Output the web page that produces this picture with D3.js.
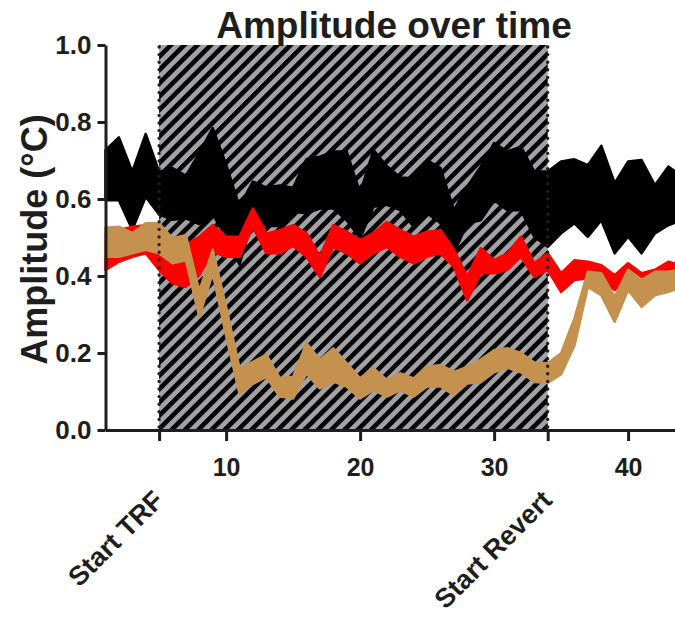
<!DOCTYPE html>
<html>
<head>
<meta charset="utf-8">
<script src="https://cdn.jsdelivr.net/npm/d3@7"></script>
<style>
  html, body { margin: 0; padding: 0; background: #fff; }
  svg { display: block; }
  text { font-family: "Liberation Sans", Arial, Helvetica, sans-serif; font-weight: bold; fill: #1e1e1e; }
</style>
</head>
<body>
<svg id="chart" width="675" height="621"></svg>
<script>
// ---- data ----
const days = [1,2,3,4,5,6,7,8,9,10,11,12,13,14,15,16,17,18,19,20,21,22,23,24,25,26,27,28,29,30,31,32,33,34,35,36,37,38,39,40,41,42,43,44];

const blackUpper = [0.727,0.760,0.671,0.769,0.671,0.680,0.660,0.720,0.784,0.690,0.580,0.645,0.630,0.635,0.629,0.703,0.710,0.723,0.723,0.615,0.727,0.685,0.656,0.654,0.700,0.680,0.571,0.632,0.684,0.745,0.723,0.736,0.671,0.671,0.697,0.703,0.688,0.738,0.641,0.697,0.701,0.636,0.684,0.660];
const blackLower = [0.597,0.597,0.520,0.606,0.560,0.546,0.550,0.535,0.560,0.500,0.430,0.550,0.530,0.530,0.567,0.563,0.575,0.576,0.545,0.498,0.580,0.585,0.571,0.528,0.563,0.537,0.459,0.537,0.545,0.597,0.571,0.571,0.502,0.476,0.511,0.537,0.502,0.545,0.459,0.502,0.459,0.511,0.532,0.545];

const redUpper = [0.506,0.519,0.528,0.532,0.519,0.485,0.480,0.502,0.532,0.502,0.502,0.575,0.510,0.519,0.532,0.511,0.450,0.532,0.515,0.493,0.511,0.540,0.519,0.502,0.515,0.519,0.468,0.398,0.472,0.441,0.459,0.502,0.433,0.459,0.407,0.441,0.437,0.428,0.402,0.433,0.407,0.416,0.437,0.428];
const redLower = [0.416,0.437,0.450,0.459,0.416,0.381,0.372,0.402,0.463,0.450,0.450,0.528,0.459,0.459,0.478,0.450,0.398,0.476,0.459,0.433,0.459,0.476,0.450,0.433,0.450,0.459,0.424,0.337,0.407,0.407,0.416,0.450,0.398,0.416,0.359,0.390,0.394,0.390,0.364,0.390,0.364,0.372,0.390,0.380];

const tanUpper = [0.525,0.528,0.511,0.537,0.537,0.498,0.506,0.360,0.468,0.320,0.160,0.177,0.195,0.135,0.138,0.225,0.182,0.212,0.173,0.134,0.160,0.130,0.147,0.134,0.164,0.169,0.151,0.164,0.183,0.207,0.212,0.200,0.175,0.173,0.199,0.290,0.411,0.407,0.346,0.416,0.390,0.411,0.411,0.416];
const tanLower = [0.450,0.450,0.459,0.468,0.459,0.433,0.441,0.294,0.408,0.245,0.095,0.120,0.138,0.087,0.082,0.147,0.108,0.126,0.113,0.082,0.104,0.087,0.104,0.087,0.113,0.113,0.091,0.121,0.124,0.150,0.162,0.150,0.125,0.122,0.145,0.220,0.372,0.350,0.281,0.364,0.320,0.350,0.359,0.370];

const yTicks = [0, 0.2, 0.4, 0.6, 0.8, 1.0];
const xTicks = [10, 20, 30, 40];
const phaseStarts = [5, 34];
const phaseLabels = ["Start TRF", "Start Revert"];

const titleText = "Amplitude over time";
const yTitle = "Amplitude (\u00B0C)";

// ---- chart ----
const svg = d3.select("#chart");
const x = d3.scaleLinear().domain([1, 44]).range([105.5, 681.7]);
const y = d3.scaleLinear().domain([0, 1]).range([430, 45]);

const defs = svg.append("defs");
const pat = defs.append("pattern")
  .attr("id", "hatch")
  .attr("patternUnits", "userSpaceOnUse")
  .attr("width", 9.4).attr("height", 10)
  .attr("patternTransform", "rotate(45)");
pat.append("rect").attr("width", 9.4).attr("height", 10).attr("fill", "#a2a2a6");
pat.append("rect").attr("x", 0).attr("width", 4.6).attr("height", 10).attr("fill", "#000");

// hatched period
svg.append("rect")
  .attr("x", x(phaseStarts[0]))
  .attr("y", y(1))
  .attr("width", x(phaseStarts[1]) - x(phaseStarts[0]))
  .attr("height", y(0) - y(1))
  .attr("fill", "url(#hatch)");

const series = [
  { up: blackUpper, lo: blackLower, color: "#000000" },
  { up: redUpper,   lo: redLower,   color: "#ff0000" },
  { up: tanUpper,   lo: tanLower,   color: "#c4914f" }
];

series.forEach(s => {
  const rows = days.map((d, i) => ({ d, up: s.up[i], lo: s.lo[i] }));
  const area = d3.area().x(r => x(r.d)).y0(r => y(r.lo)).y1(r => y(r.up));
  svg.append("path").datum(rows).attr("d", area)
    .attr("fill", s.color).attr("stroke", s.color).attr("stroke-width", 2.6)
    .attr("stroke-linejoin", "round");
});

// dotted borders of the period
phaseStarts.forEach(p => {
  svg.append("line")
    .attr("x1", x(p)).attr("x2", x(p))
    .attr("y1", y(1) + 2).attr("y2", y(0))
    .attr("stroke", "#1e1e1e").attr("stroke-width", 3.4)
    .attr("stroke-linecap", "round")
    .attr("stroke-dasharray", "0,7.6");
});

// axes
const xAxis = d3.axisBottom(x)
  .tickValues([phaseStarts[0], ...xTicks.slice(0, 3), phaseStarts[1], xTicks[3]])
  .tickFormat(d => xTicks.includes(d) ? String(d) : "")
  .tickSize(11).tickSizeOuter(0).tickPadding(17);
const gx = svg.append("g").attr("transform", `translate(0,${y(0)})`).call(xAxis);
gx.select(".domain").attr("stroke", "#1e1e1e").attr("stroke-width", 3);
gx.selectAll(".tick line").attr("stroke", "#1e1e1e").attr("stroke-width", 3);
gx.selectAll(".tick text").attr("font-size", 25).attr("fill", "#1e1e1e")
  .attr("font-family", "Liberation Sans, Arial, sans-serif").attr("font-weight", "bold");

const yAxis = d3.axisLeft(y).tickValues(yTicks).tickFormat(d3.format(".1f"))
  .tickSize(8).tickSizeOuter(0).tickPadding(6);
const gy = svg.append("g").attr("transform", `translate(${x(1)},0)`).call(yAxis);
gy.select(".domain").attr("stroke", "#1e1e1e").attr("stroke-width", 3);
gy.selectAll(".tick line").attr("stroke", "#1e1e1e").attr("stroke-width", 3);
gy.selectAll(".tick text").attr("font-size", 26).attr("fill", "#1e1e1e")
  .attr("font-family", "Liberation Sans, Arial, sans-serif").attr("font-weight", "bold");

// phase labels
phaseStarts.forEach((p, i) => {
  svg.append("text")
    .attr("transform", `translate(${x(p) + 6},${502}) rotate(-45)`)
    .attr("text-anchor", "end")
    .attr("font-size", 27)
    .text(phaseLabels[i]);
});

// titles
svg.append("text")
  .attr("x", 394).attr("y", 38)
  .attr("text-anchor", "middle")
  .attr("font-size", 37)
  .text(titleText);

svg.append("text")
  .attr("transform", `translate(47,${(y(0) + y(1)) / 2 + 2}) rotate(-90)`)
  .attr("text-anchor", "middle")
  .attr("font-size", 36)
  .text(yTitle);
</script>
</body>
</html>
